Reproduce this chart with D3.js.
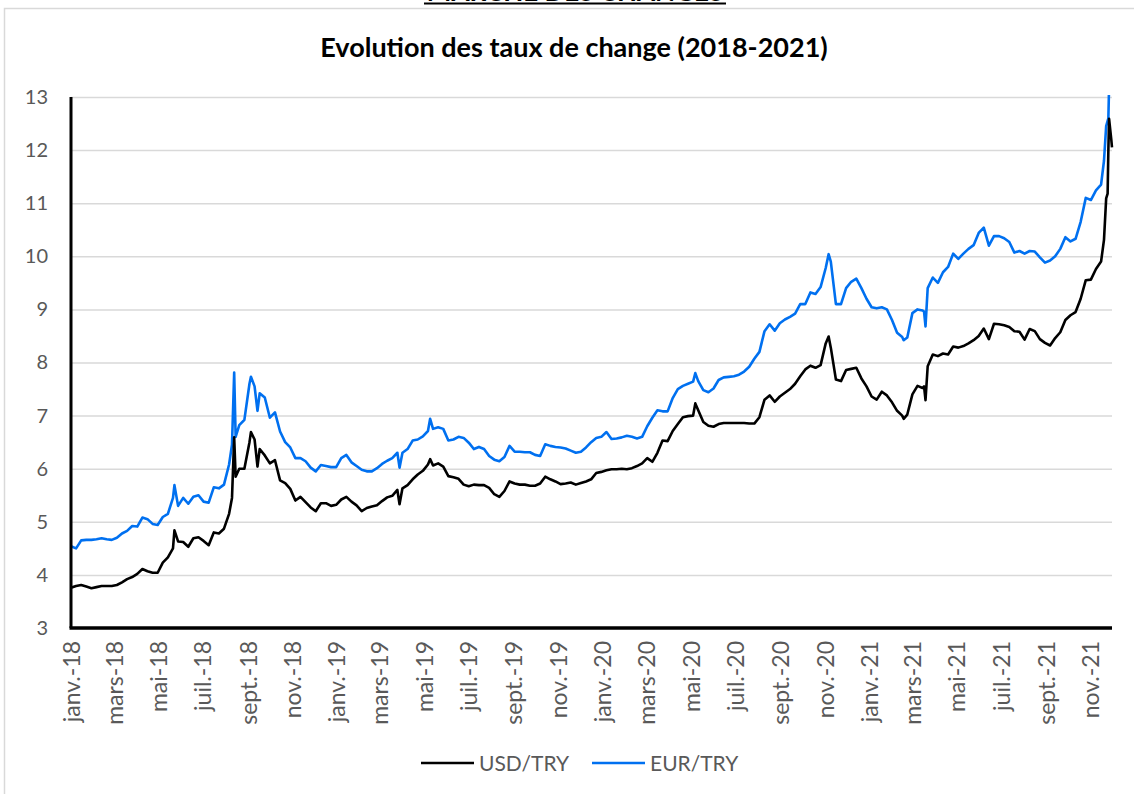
<!DOCTYPE html>
<html>
<head>
<meta charset="utf-8">
<script src="https://cdnjs.cloudflare.com/ajax/libs/d3/7.8.5/d3.min.js"></script>
<style>
  body { margin: 0; background: #fff; }
  svg { display: block; font-family: Lato, "Open Sans", sans-serif; }
</style>
</head>
<body>
<div id="chart"></div>
<script>
// weekly readings (mondays) + a few extra days on the spikes
var dates = [
  "2018-01-01","2018-01-08","2018-01-15","2018-01-22","2018-01-29",
  "2018-02-05","2018-02-12","2018-02-19","2018-02-26",
  "2018-03-05","2018-03-12","2018-03-19","2018-03-26",
  "2018-04-02","2018-04-09","2018-04-16","2018-04-23","2018-04-30",
  "2018-05-07","2018-05-14","2018-05-21","2018-05-23","2018-05-28",
  "2018-06-04","2018-06-11","2018-06-18","2018-06-25",
  "2018-07-02","2018-07-09","2018-07-16","2018-07-23","2018-07-30",
  "2018-08-06","2018-08-10","2018-08-13","2018-08-15","2018-08-20","2018-08-27",
  "2018-09-03","2018-09-05","2018-09-10","2018-09-14","2018-09-17","2018-09-24",
  "2018-10-01","2018-10-08","2018-10-15","2018-10-22","2018-10-29",
  "2018-11-05","2018-11-12","2018-11-19","2018-11-26",
  "2018-12-03","2018-12-10","2018-12-17","2018-12-24","2018-12-31",
  "2019-01-07","2019-01-14","2019-01-21","2019-01-28",
  "2019-02-04","2019-02-11","2019-02-18","2019-02-25",
  "2019-03-04","2019-03-11","2019-03-18","2019-03-25","2019-03-28",
  "2019-04-01","2019-04-08","2019-04-15","2019-04-22","2019-04-29",
  "2019-05-06","2019-05-09","2019-05-13","2019-05-20","2019-05-27",
  "2019-06-03","2019-06-10","2019-06-17","2019-06-24",
  "2019-07-01","2019-07-08","2019-07-15","2019-07-22","2019-07-29",
  "2019-08-05","2019-08-12","2019-08-19","2019-08-26",
  "2019-09-02","2019-09-09","2019-09-16","2019-09-23","2019-09-30",
  "2019-10-07","2019-10-14","2019-10-21","2019-10-28",
  "2019-11-04","2019-11-11","2019-11-18","2019-11-25",
  "2019-12-02","2019-12-09","2019-12-16","2019-12-23","2019-12-30",
  "2020-01-06","2020-01-13","2020-01-20","2020-01-27",
  "2020-02-03","2020-02-10","2020-02-17","2020-02-24",
  "2020-03-02","2020-03-09","2020-03-16","2020-03-23","2020-03-30",
  "2020-04-06","2020-04-13","2020-04-20","2020-04-27",
  "2020-05-04","2020-05-07","2020-05-11","2020-05-18","2020-05-25",
  "2020-06-01","2020-06-08","2020-06-15","2020-06-22","2020-06-29",
  "2020-07-06","2020-07-13","2020-07-20","2020-07-27",
  "2020-08-03","2020-08-10","2020-08-17","2020-08-24","2020-08-31",
  "2020-09-07","2020-09-14","2020-09-21","2020-09-28",
  "2020-10-05","2020-10-12","2020-10-19","2020-10-26",
  "2020-11-02","2020-11-06","2020-11-09","2020-11-16","2020-11-23","2020-11-30",
  "2020-12-07","2020-12-14","2020-12-21","2020-12-28",
  "2021-01-04","2021-01-11","2021-01-18","2021-01-25",
  "2021-02-01","2021-02-08","2021-02-15","2021-02-17","2021-02-22",
  "2021-03-01","2021-03-08","2021-03-15","2021-03-17","2021-03-19","2021-03-22","2021-03-29",
  "2021-04-05","2021-04-12","2021-04-19","2021-04-26",
  "2021-05-03","2021-05-10","2021-05-17","2021-05-24","2021-05-31",
  "2021-06-07","2021-06-14","2021-06-21","2021-06-28",
  "2021-07-05","2021-07-12","2021-07-19","2021-07-26",
  "2021-08-02","2021-08-09","2021-08-16","2021-08-23","2021-08-30",
  "2021-09-06","2021-09-13","2021-09-20","2021-09-27",
  "2021-10-04","2021-10-11","2021-10-18","2021-10-25",
  "2021-11-01","2021-11-08","2021-11-15","2021-11-19","2021-11-22","2021-11-24","2021-11-25","2021-11-26","2021-11-29","2021-11-30"
];

var usdTry = [
  3.76,3.79,3.81,3.78,3.75,
  3.77,3.79,3.79,3.79,
  3.81,3.86,3.92,3.96,
  4.02,4.11,4.07,4.04,4.04,
  4.23,4.33,4.50,4.84,4.63,
  4.62,4.53,4.69,4.71,
  4.64,4.56,4.80,4.78,4.87,
  5.15,5.45,6.59,5.85,6.00,6.00,
  6.50,6.69,6.55,6.04,6.37,6.25,
  6.10,6.16,5.78,5.73,5.62,
  5.40,5.47,5.37,5.27,
  5.20,5.35,5.35,5.30,5.32,
  5.42,5.47,5.38,5.31,
  5.20,5.26,5.29,5.31,
  5.39,5.46,5.49,5.60,5.33,
  5.63,5.69,5.80,5.89,5.96,
  6.08,6.18,6.06,6.10,6.04,
  5.86,5.84,5.81,5.70,
  5.67,5.70,5.69,5.69,5.64,
  5.52,5.47,5.58,5.76,
  5.72,5.70,5.70,5.68,5.68,
  5.72,5.85,5.80,5.76,
  5.71,5.72,5.74,5.70,
  5.73,5.76,5.80,5.92,5.94,
  5.97,5.99,5.99,6.00,
  5.99,6.01,6.05,6.10,
  6.20,6.13,6.30,6.53,6.52,
  6.71,6.84,6.97,6.99,
  7.00,7.23,7.10,6.88,6.81,
  6.79,6.84,6.86,6.86,6.86,
  6.86,6.86,6.85,6.85,
  6.97,7.30,7.38,7.26,7.36,
  7.43,7.50,7.60,7.74,
  7.87,7.94,7.90,7.95,
  8.36,8.49,8.28,7.68,7.65,7.86,
  7.88,7.90,7.70,7.55,
  7.36,7.30,7.45,7.38,
  7.25,7.09,7.00,6.94,7.02,
  7.40,7.56,7.52,7.55,7.29,7.93,8.15,
  8.12,8.17,8.15,8.30,
  8.28,8.31,8.36,8.42,8.50,
  8.64,8.44,8.73,8.72,
  8.70,8.67,8.59,8.58,
  8.43,8.63,8.59,8.44,8.37,
  8.32,8.46,8.57,8.80,
  8.89,8.95,9.20,9.55,
  9.56,9.76,9.90,10.31,11.09,11.18,12.00,12.59,12.20,12.05
];

var eurTry = [
  4.54,4.50,4.65,4.66,4.66,
  4.67,4.69,4.67,4.66,
  4.70,4.78,4.83,4.92,
  4.91,5.08,5.05,4.96,4.94,
  5.09,5.15,5.45,5.69,5.30,
  5.45,5.34,5.47,5.50,
  5.38,5.36,5.65,5.63,5.70,
  6.08,6.45,7.81,6.60,6.82,6.92,
  7.60,7.73,7.55,7.09,7.42,7.34,
  6.96,7.06,6.70,6.50,6.40,
  6.20,6.20,6.14,6.02,
  5.95,6.07,6.05,6.03,6.03,
  6.20,6.26,6.12,6.05,
  5.98,5.95,5.95,6.01,
  6.09,6.15,6.20,6.30,6.02,
  6.30,6.37,6.53,6.55,6.61,
  6.71,6.94,6.75,6.78,6.75,
  6.53,6.55,6.60,6.58,
  6.49,6.37,6.41,6.37,6.24,
  6.17,6.14,6.22,6.43,
  6.32,6.32,6.31,6.31,6.26,
  6.24,6.46,6.43,6.41,
  6.40,6.38,6.34,6.30,
  6.32,6.40,6.50,6.58,6.60,
  6.69,6.56,6.57,6.59,
  6.62,6.60,6.57,6.60,
  6.80,6.96,7.10,7.08,7.08,
  7.33,7.50,7.56,7.60,
  7.64,7.80,7.65,7.48,7.44,
  7.51,7.67,7.72,7.73,7.74,
  7.77,7.83,7.92,8.07,
  8.20,8.59,8.72,8.60,8.74,
  8.81,8.86,8.92,9.10,
  9.10,9.32,9.29,9.42,
  9.78,10.04,9.90,9.10,9.10,9.40,
  9.52,9.58,9.40,9.20,
  9.04,9.02,9.04,9.00,
  8.80,8.56,8.48,8.42,8.47,
  8.93,9.00,8.98,8.96,8.68,9.40,9.60,
  9.50,9.70,9.80,10.05,
  9.95,10.05,10.14,10.21,10.44,
  10.54,10.20,10.38,10.38,
  10.34,10.27,10.07,10.10,
  10.05,10.10,10.09,9.98,9.88,
  9.92,10.00,10.14,10.36,
  10.28,10.33,10.65,11.10,
  11.06,11.24,11.35,11.80,12.45,12.55,12.60,13.20,13.50,13.40
];

var seriesNames = ["USD/TRY", "EUR/TRY"];
var seriesColors = ["#000000", "#0070F0"];
var moisCourts = ["janv.", "févr.", "mars", "avr.", "mai", "juin",
                  "juil.", "août", "sept.", "oct.", "nov.", "déc."];
var yTicks = [3, 4, 5, 6, 7, 8, 9, 10, 11, 12, 13];
var surTitre = "MARCHÉ DES CHANGES";
var titre = "Evolution des taux de change (2018-2021)";

var width = 1134;
var height = 794;
var plotLeft = 71, plotRight = 1112, plotTop = 97, plotBottom = 628;

var parseDate = d3.timeParse("%Y-%m-%d");
var series = [usdTry, eurTry].map(function (vals, i) {
  return {
    name: seriesNames[i],
    color: seriesColors[i],
    values: vals.map(function (v, j) { return { date: parseDate(dates[j]), value: v }; })
  };
});

var x = d3.scaleTime()
  .domain([parseDate("2018-01-01"), parseDate("2021-11-30")])
  .range([plotLeft, plotRight]);
var y = d3.scaleLinear()
  .domain([3, 13])
  .range([plotBottom, plotTop]);

var svg = d3.select("#chart").append("svg")
  .attr("width", width)
  .attr("height", height);

// chart area frame
svg.append("rect")
  .attr("x", 4.5).attr("y", 8.5)
  .attr("width", 1200).attr("height", 900)
  .attr("fill", "#fff")
  .attr("stroke", "#d9d9d9")
  .attr("stroke-width", 1.5);

// heading cut by the top of the page
svg.append("text")
  .attr("x", 575).attr("y", 1)
  .attr("text-anchor", "middle")
  .style("font-weight", "bold")
  .style("font-size", "26px")
  .style("fill", "#000")
  .text(surTitre);
svg.append("rect")
  .attr("x", 424).attr("y", 2.5)
  .attr("width", 302).attr("height", 2)
  .attr("fill", "#000");

svg.append("text")
  .attr("x", 574).attr("y", 57)
  .attr("text-anchor", "middle")
  .style("font-weight", "bold")
  .style("font-size", "27px")
  .style("fill", "#000")
  .text(titre);

// gridlines
svg.append("g")
  .attr("transform", "translate(" + plotLeft + ",0)")
  .call(d3.axisLeft(y).tickValues(yTicks.slice(1)).tickSize(-(plotRight - plotLeft)).tickFormat(""))
  .call(function (g) { g.select(".domain").remove(); })
  .selectAll("line")
  .attr("stroke", "#d9d9d9")
  .attr("stroke-width", 1.5);

// y labels
svg.append("g")
  .attr("transform", "translate(" + plotLeft + ",0)")
  .call(d3.axisLeft(y).tickValues(yTicks).tickSize(0).tickPadding(23))
  .call(function (g) { g.select(".domain").remove(); })
  .selectAll("text")
  .style("font-family", "Lato, sans-serif")
  .style("font-size", "20px")
  .style("fill", "#595959");

// x labels
var monthTicks = d3.timeMonth.every(2).range(x.domain()[0], x.domain()[1]);
svg.append("g")
  .attr("transform", "translate(0," + plotBottom + ")")
  .call(d3.axisBottom(x).tickValues(monthTicks).tickSize(0)
    .tickFormat(function (d) { return moisCourts[d.getMonth()] + "-" + d3.timeFormat("%y")(d); }))
  .call(function (g) { g.select(".domain").remove(); })
  .selectAll("text")
  .attr("transform", "rotate(-90)")
  .attr("x", -13)
  .attr("y", 0)
  .attr("dy", "0.35em")
  .style("text-anchor", "end")
  .style("font-family", "Lato, sans-serif")
  .style("font-size", "23px")
  .style("fill", "#595959");

// lines
svg.append("clipPath").attr("id", "plotClip")
  .append("rect")
  .attr("x", plotLeft).attr("y", plotTop - 2)
  .attr("width", plotRight - plotLeft + 4).attr("height", plotBottom - plotTop + 2);

var line = d3.line()
  .x(function (d) { return x(d.date); })
  .y(function (d) { return y(d.value); });

svg.append("g")
  .attr("clip-path", "url(#plotClip)")
  .selectAll("path")
  .data(series.slice().reverse())
  .enter()
  .append("path")
  .attr("d", function (d) { return line(d.values); })
  .attr("fill", "none")
  .attr("stroke", function (d) { return d.color; })
  .attr("stroke-width", 2.6)
  .attr("stroke-linejoin", "round");

// axis lines
svg.append("line")
  .attr("x1", plotLeft).attr("x2", plotLeft)
  .attr("y1", plotTop).attr("y2", plotBottom)
  .attr("stroke", "#000").attr("stroke-width", 3);
svg.append("line")
  .attr("x1", plotLeft - 1.5).attr("x2", plotRight)
  .attr("y1", plotBottom).attr("y2", plotBottom)
  .attr("stroke", "#000").attr("stroke-width", 3.5);

// legend
var legend = svg.append("g").selectAll("g")
  .data(series)
  .enter()
  .append("g")
  .attr("transform", function (d, i) { return "translate(" + (421 + i * 171) + ",763)"; });
legend.append("line")
  .attr("x1", 0).attr("x2", 53)
  .attr("stroke", function (d) { return d.color; })
  .attr("stroke-width", 2.6);
legend.append("text")
  .attr("x", 58).attr("y", 7.5)
  .style("font-size", "21px")
  .style("fill", "#595959")
  .text(function (d) { return d.name; });
</script>
</body>
</html>
